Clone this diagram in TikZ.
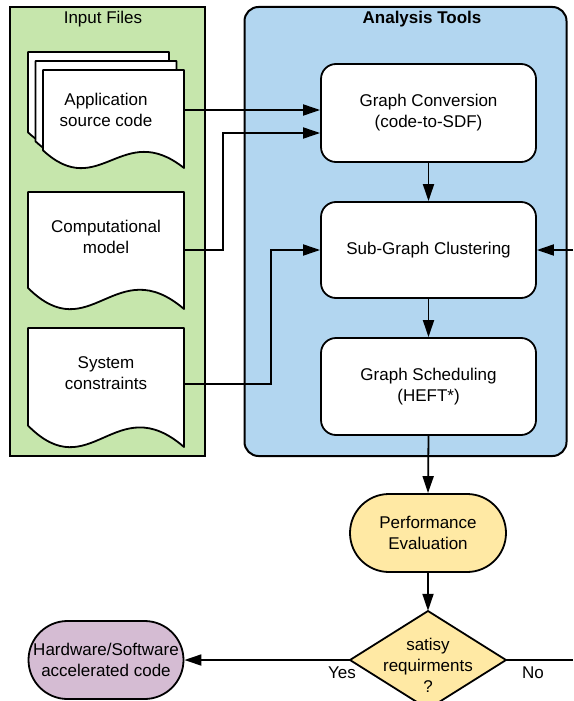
\documentclass[tikz,border=0pt]{standalone}
\usepackage{fontspec}
\setmainfont{Liberation Sans}
\usetikzlibrary{arrows.meta,calc}

\definecolor{inputgreen}{RGB}{198,230,172}
\definecolor{toolblue}{RGB}{178,214,240}
\definecolor{evalyellow}{RGB}{255,233,164}
\definecolor{resultmauve}{RGB}{213,188,211}

\tikzset{
  txt/.style={font=\fontsize{17pt}{21pt}\selectfont, align=center},
  container/.style={draw, line width=2pt, inner sep=0pt},
  docline/.style={draw, fill=white, line width=1.8pt, line join=round},
  docarea/.style={rectangle, inner sep=0pt, txt},
  proc/.style={rectangle, draw, fill=white, line width=1.8pt, rounded corners=15pt,
    minimum width=215pt, inner sep=0pt, txt},
  terminal/.style={rectangle, draw, line width=1.8pt, rounded corners=39pt,
    minimum height=78pt, inner sep=0pt, txt},
  line/.style={line width=1.8pt},
  conn/.style={line, -{Triangle[length=17pt,width=11pt]}},
}

% document sheet with wavy bottom edge: left, top, width, height
\newcommand\docoutline[4]{%
  \begin{scope}[shift={(#1,#2)},xscale=#3,yscale=#4]
    \draw[docline] (0,0) -- (1,0) -- (1,1)
      .. controls (0.56,0.50) and (0.40,1.35) .. (0,0.82) -- cycle;
  \end{scope}}

\begin{document}
\begin{tikzpicture}[x=1pt,y=-1pt]
  \useasboundingbox (0,0) rectangle (573,701);
  \clip (0,0) rectangle (573,701);

  % containers
  \node[container, fill=inputgreen, minimum width=195pt, minimum height=449pt,
        anchor=north west] (inputs) at (9,6) {};
  \node[txt] (inputs-title) at (103,19) {Input Files};
  \node[container, fill=toolblue, rounded corners=14pt, minimum width=322pt,
        minimum height=449pt, anchor=north west] (tools) at (243.5,6) {};
  \node[txt, font=\fontsize{17pt}{21pt}\selectfont\bfseries] (tools-title) at (422,19) {Analysis Tools};

  % input documents
  \docoutline{28}{52}{141}{98}
  \docoutline{35.5}{61}{141}{98}
  \docoutline{43}{70}{141}{98}
  \docoutline{28}{192}{156}{117}
  \docoutline{28}{328}{156}{119}

  \node[docarea, minimum width=156pt, minimum height=116pt] (app) at (106,110)
    {Application\\source code};
  \node[docarea, minimum width=156pt, minimum height=117pt,
        label={[txt, name=comp-text, yshift=13pt]center:Computational\\model}]
    (comp) at (106,250) {};
  \node[docarea, minimum width=156pt, minimum height=112pt,
        label={[txt, name=sys-text, yshift=10.5pt]center:System\\constraints}]
    (sys) at (106,384) {};

  % analysis steps
  \node[proc, minimum height=98pt] (gc) at (428.5,113) {Graph Conversion\\(code-to-SDF)};
  \node[proc, minimum height=96pt] (sgc) at (428.5,250) {Sub-Graph Clustering};
  \node[proc, minimum height=97pt] (gs) at (428.5,386.5) {Graph Scheduling\\(HEFT*)};

  % evaluation and decision
  \node[terminal, fill=evalyellow, minimum width=156pt] (perf) at (428,533)
    {Performance\\Evaluation};
  \draw[line, fill=evalyellow, line join=round] (428,611) -- (506,660) -- (428,709) -- (350,660) -- cycle;
  \node[docarea, minimum width=156pt, minimum height=98pt,
        label={[txt, name=dec-text, yshift=-5pt]center:satisy\\requirments\\?}]
    (dec) at (428,660) {};
  \node[terminal, fill=resultmauve, minimum width=155pt] (hw) at (106,660)
    {Hardware/Software\\accelerated code};
  \node[txt] (yes) at (342,673) {Yes};
  \node[txt] (no) at (533,673) {No};

  \coordinate (loop-in) at (573,250);
  \coordinate (loop-out) at (573,660);

  % connectors
  \draw[conn] (app.east) -- (app.east -| gc.west);
  \draw[conn] (comp.east) -- ++(39,0) |- ([yshift=-20pt]gc.west);
  \draw[conn] (sys.east) -- ++(87,0) |- (sgc.west);
  \draw[conn] (gc.south) -- (sgc.north);
  \draw[conn] (sgc.south) -- (gs.north);
  \draw[conn] (gs.south) -- (perf.north);
  \draw[conn] (perf.south) -- (dec.north);
  \draw[conn] (dec.west) -- (hw.east);
  \draw[line] (dec.east) -- (loop-out);
  \draw[conn] (loop-in) -- (sgc.east);
\end{tikzpicture}
\end{document}
